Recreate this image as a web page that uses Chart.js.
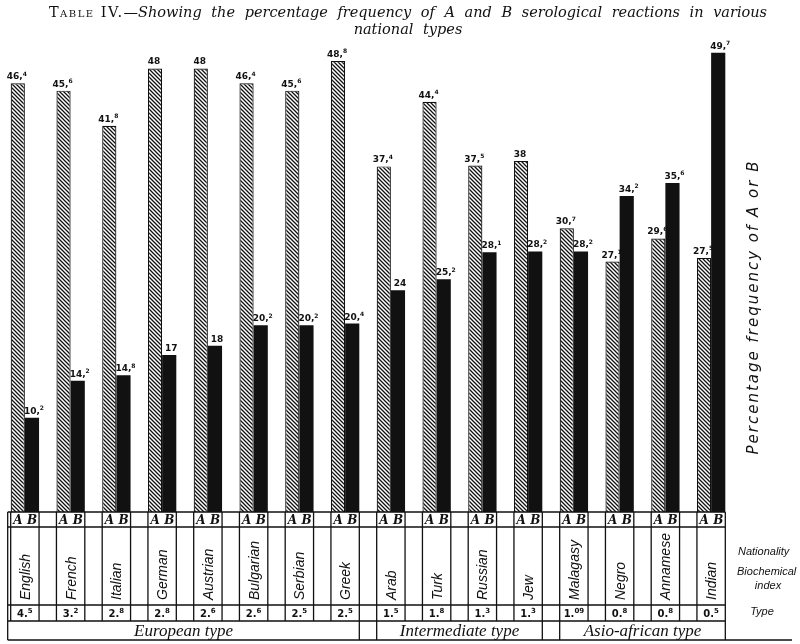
<!DOCTYPE html>
<html>
<head>
<meta charset="utf-8">
<script src="https://cdn.jsdelivr.net/npm/chart.js@4.4.1/dist/chart.umd.min.js"></script>
<style>
  html, body { margin: 0; padding: 0; background: #fff; }
  #wrap { position: relative; width: 800px; height: 644px; }
  #chart { position: absolute; left: 0; top: 0; }
  #title { position: absolute; left: 8px; top: 4px; width: 800px; text-align: center;
           font-family: "DejaVu Serif", serif; font-size: 14.5px; line-height: 17px; color: #111; }
  .sc { font-variant: small-caps; letter-spacing: 1.5px; }
  .it { font-style: italic; word-spacing: 5px; }
</style>
</head>
<body>
<div id="wrap">
  <canvas id="chart" width="800" height="644"></canvas>
  <div id="title"><span class="sc">Table IV.</span><span class="it">—Showing the percentage frequency of A and B serological reactions in various<br>national types</span></div>
</div>
<script>
// Data
const nationalities = ['English', 'French', 'Italian', 'German', 'Austrian', 'Bulgarian', 'Serbian', 'Greek',
                       'Arab', 'Turk', 'Russian', 'Jew', 'Malagasy', 'Negro', 'Annamese', 'Indian'];
const freqA = [46.4, 45.6, 41.8, 48, 48, 46.4, 45.6, 48.8, 37.4, 44.4, 37.5, 38, 30.7, 27.1, 29.6, 27.5];
const freqB = [10.2, 14.2, 14.8, 17, 18, 20.2, 20.2, 20.4, 24, 25.2, 28.1, 28.2, 28.2, 34.2, 35.6, 49.7];
const bioIndex = ['4.5', '3.2', '2.8', '2.8', '2.6', '2.6', '2.5', '2.5', '1.5', '1.8', '1.3', '1.3', '1.09', '0.8', '0.8', '0.5'];
const typeNames = ['European type', 'Intermediate type', 'Asio-african type'];
const typeSizes = [8, 4, 4];

const INK = '#111';

// Hatch pattern for the A bars
function hatch() {
    const c = document.createElement('canvas');
    c.width = 4; c.height = 4;
    const g = c.getContext('2d');
    g.fillStyle = '#fff';
    g.fillRect(0, 0, 4, 4);
    g.strokeStyle = INK;
    g.lineWidth = 1.3;
    g.beginPath();
    g.moveTo(-1, -1); g.lineTo(5, 5);
    g.moveTo(-1, 3); g.lineTo(1, 5);
    g.moveTo(3, -1); g.lineTo(5, 1);
    g.stroke();
    return g.createPattern(c, 'repeat');
}

// number with a small raised decimal, like the printed labels
function drawSup(ctx, text, sep, x, y, size) {
    const parts = text.split('.');
    const main = parts.length > 1 ? parts[0] + sep : parts[0];
    const sup = parts.length > 1 ? parts[1] : '';
    ctx.font = 'bold ' + size + 'px "DejaVu Sans"';
    const w1 = ctx.measureText(main).width;
    ctx.font = 'bold ' + Math.round(size * 0.7) + 'px "DejaVu Sans"';
    const w2 = ctx.measureText(sup).width;
    let x0 = x - (w1 + w2) / 2;
    ctx.textAlign = 'left';
    ctx.textBaseline = 'alphabetic';
    ctx.font = 'bold ' + size + 'px "DejaVu Sans"';
    ctx.fillText(main, x0, y);
    ctx.font = 'bold ' + Math.round(size * 0.7) + 'px "DejaVu Sans"';
    ctx.fillText(sup, x0 + w1, y - size * 0.4);
}

const tablePlugin = {
    id: 'tablePlugin',
    afterDraw(chart) {
        const ctx = chart.ctx;
        const area = chart.chartArea;
        const barsA = chart.getDatasetMeta(0).data;
        const barsB = chart.getDatasetMeta(1).data;
        ctx.save();
        ctx.fillStyle = INK;
        ctx.strokeStyle = INK;

        // value labels
        barsA.forEach((el, i) => drawSup(ctx, String(freqA[i]), ',', el.x - 1, el.y - 4, 9));
        barsB.forEach((el, i) => drawSup(ctx, String(freqB[i]), ',', el.x + 2, el.y - 4, 9));

        const y0 = area.bottom, y1 = y0 + 15, y2 = y0 + 93, y3 = y0 + 109, y4 = y0 + 128;
        const boxL = i => barsA[i].x - barsA[i].width / 2;
        const boxR = i => barsB[i].x + barsB[i].width / 2;
        const left = boxL(0) - 3, right = boxR(nationalities.length - 1);

        ctx.lineWidth = 1.3;
        ctx.beginPath();
        [y0, y1, y2, y3].forEach(y => { ctx.moveTo(left, y); ctx.lineTo(right, y); });
        ctx.moveTo(left, y4); ctx.lineTo(792, y4);
        ctx.moveTo(left, y0); ctx.lineTo(left, y4);
        nationalities.forEach((n, i) => {
            ctx.moveTo(boxL(i), y0); ctx.lineTo(boxL(i), y3);
            ctx.moveTo(boxR(i), y0); ctx.lineTo(boxR(i), y3);
        });
        let start = 0;
        typeSizes.forEach(n => {
            const gl = start === 0 ? left : boxL(start), gr = boxR(start + n - 1);
            ctx.moveTo(gl, y3); ctx.lineTo(gl, y4);
            ctx.moveTo(gr, y3); ctx.lineTo(gr, y4);
            start += n;
        });
        ctx.stroke();

        // A B row, nationality and index
        nationalities.forEach((name, i) => {
            const cx = (boxL(i) + boxR(i)) / 2;
            ctx.font = 'italic bold 12px "DejaVu Serif"';
            ctx.textAlign = 'center';
            ctx.textBaseline = 'middle';
            ctx.fillText('A', barsA[i].x, (y0 + y1) / 2 + 1);
            ctx.fillText('B', barsB[i].x, (y0 + y1) / 2 + 1);

            ctx.save();
            ctx.translate(cx + 1, y2 - 5);
            ctx.rotate(-Math.PI / 2);
            ctx.font = 'italic 14px "Liberation Sans"';
            ctx.textAlign = 'left';
            ctx.textBaseline = 'middle';
            ctx.fillText(name, 0, 0);
            ctx.restore();

            drawSup(ctx, bioIndex[i], '.', cx, y3 - 4, 10);
        });

        // type groups
        start = 0;
        typeSizes.forEach((n, k) => {
            const gl = start === 0 ? left : boxL(start), gr = boxR(start + n - 1);
            ctx.font = 'italic 17px "Liberation Serif"';
            ctx.textAlign = 'center';
            ctx.textBaseline = 'middle';
            ctx.fillText(typeNames[k], (gl + gr) / 2, (y3 + y4) / 2 + 1);
            start += n;
        });

        // row captions on the right
        ctx.font = 'italic 11px "Liberation Sans"';
        ctx.textAlign = 'left';
        ctx.textBaseline = 'middle';
        ctx.fillText('Nationality', 738, 552);
        ctx.fillText('Biochemical', 737, 572);
        ctx.textAlign = 'center';
        ctx.fillText('index', 768, 586);
        ctx.fillText('Type', 762, 612);

        // axis caption
        ctx.save();
        ctx.translate(754, 307);
        ctx.rotate(-Math.PI / 2);
        ctx.font = 'italic 15px "DejaVu Sans"';
        ctx.letterSpacing = '2px';
        ctx.textAlign = 'center';
        ctx.textBaseline = 'middle';
        ctx.fillText('Percentage frequency of A or B', 0, 0);
        ctx.restore();

        ctx.restore();
    }
};

function initChart() {
    const ctx = document.getElementById('chart').getContext('2d');
    new Chart(ctx, {
        type: 'bar',
        data: {
            labels: nationalities,
            datasets: [{
                label: 'A',
                data: freqA,
                backgroundColor: hatch(),
                borderColor: INK,
                borderWidth: 1.2,
                categoryPercentage: 0.62,
                barPercentage: 1
            }, {
                label: 'B',
                data: freqB,
                backgroundColor: INK,
                borderColor: INK,
                borderWidth: 0,
                categoryPercentage: 0.62,
                barPercentage: 1
            }]
        },
        options: {
            responsive: false,
            animation: false,
            layout: { padding: { top: 50, bottom: 132, left: 2, right: 66 } },
            scales: {
                x: { display: false },
                y: { display: false, min: 0, max: 50 }
            },
            plugins: {
                legend: { display: false },
                tooltip: { enabled: false }
            }
        },
        plugins: [tablePlugin]
    });
}

initChart();
</script>
</body>
</html>
